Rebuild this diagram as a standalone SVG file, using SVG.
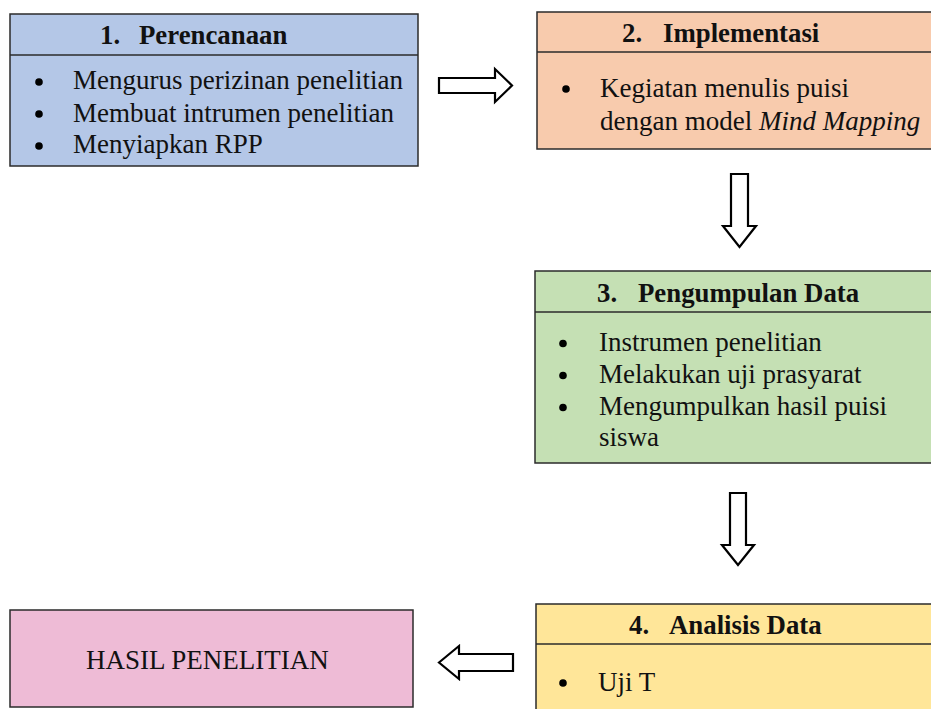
<svg xmlns="http://www.w3.org/2000/svg" width="931" height="709" viewBox="0 0 931 709">
<style>
.box{stroke:#2b2b2b;stroke-width:1.5}
.div{stroke:#2b2b2b;stroke-width:1.5}
.t{font-family:"Liberation Serif","Times New Roman",serif;font-size:26.8px;font-weight:bold;fill:#111}
.b{font-family:"Liberation Serif","Times New Roman",serif;font-size:27px;fill:#111}
.dot{fill:#000}
.arr{fill:#fff;stroke:#000;stroke-width:2.2;stroke-linejoin:miter}
</style>
<rect width="931" height="709" fill="#fff"/>
<g id="node1">
<rect class="box" x="10" y="14" width="408" height="152" fill="#B4C7E7"/>
<line class="div" x1="10" y1="55" x2="418" y2="55"/>
<text class="t" y="44"><tspan x="100">1. </tspan><tspan x="139">Perencanaan</tspan></text>
<circle class="dot" cx="39" cy="82" r="3.8"/>
<circle class="dot" cx="39" cy="114" r="3.8"/>
<circle class="dot" cx="39" cy="146" r="3.8"/>
<text class="b" x="73" y="89">Mengurus perizinan penelitian</text>
<text class="b" x="73" y="121.5">Membuat intrumen penelitian</text>
<text class="b" x="73" y="153">Menyiapkan RPP</text>
</g>
<g id="node2">
<rect class="box" x="537" y="12" width="420" height="137" fill="#F8CBAD"/>
<line class="div" x1="537" y1="52" x2="957" y2="52"/>
<text class="t" y="42"><tspan x="622">2. </tspan><tspan x="663">Implementasi</tspan></text>
<circle class="dot" cx="566" cy="89" r="3.8"/>
<text class="b" x="600" y="96.5">Kegiatan menulis puisi</text>
<text class="b" x="600" y="130">dengan model <tspan font-style="italic">Mind Mapping</tspan></text>
</g>
<g id="node3">
<rect class="box" x="535" y="271" width="420" height="192" fill="#C5E0B4"/>
<line class="div" x1="535" y1="312" x2="955" y2="312"/>
<text class="t" y="301.5"><tspan x="597">3. </tspan><tspan x="638">Pengumpulan Data</tspan></text>
<circle class="dot" cx="563" cy="343.5" r="3.8"/>
<circle class="dot" cx="563" cy="375.5" r="3.8"/>
<circle class="dot" cx="563" cy="407.5" r="3.8"/>
<text class="b" x="599" y="350.5">Instrumen penelitian</text>
<text class="b" x="599" y="382.5">Melakukan uji prasyarat</text>
<text class="b" x="599" y="415">Mengumpulkan hasil puisi</text>
<text class="b" x="599" y="446">siswa</text>
</g>
<g id="node4">
<rect class="box" x="536" y="604" width="420" height="120" fill="#FFE699"/>
<line class="div" x1="536" y1="644" x2="956" y2="644"/>
<text class="t" y="634"><tspan x="629">4. </tspan><tspan x="669">Analisis Data</tspan></text>
<circle class="dot" cx="563" cy="683" r="3.8"/>
<text class="b" x="598" y="690.5">Uji T</text>
</g>
<g id="node5">
<rect class="box" x="10" y="610" width="403" height="97" fill="#EEBBD6"/>
<text class="b" x="86" y="669">HASIL PENELITIAN</text>
</g>
<g id="connectors">
<polygon class="arr" points="439,78 495,78 495,69 512,85.5 495,102 495,93 439,93"/>
<polygon class="arr" points="731,174 748,174 748,226 756,226 739.5,247 723,226 731,226"/>
<polygon class="arr" points="730,493 746,493 746,545 754,545 738,565 722,545 730,545"/>
<polygon class="arr" points="439,662.5 459,646 459,654 513,654 513,671 459,671 459,679"/>
</g>
</svg>
